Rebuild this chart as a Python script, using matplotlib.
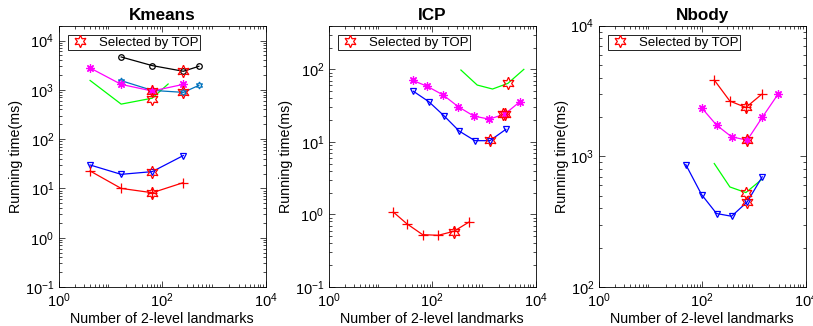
import numpy as np
import matplotlib
matplotlib.use("Agg")
import matplotlib.pyplot as plt
from matplotlib.ticker import LogLocator, LogFormatterMathtext, NullFormatter

plt.rcParams['font.family'] = ['Liberation Sans', 'DejaVu Sans']
plt.rcParams['mathtext.fontset'] = 'custom'
plt.rcParams['mathtext.rm'] = 'Liberation Sans'
plt.rcParams['mathtext.default'] = 'regular'
plt.rcParams['font.size'] = 10.3

# ---- Kmeans data ----
km_black_x = [16, 64, 256, 512]
km_black_y = [4640, 3100, 2380, 3000]
km_mag_x = [4, 16, 64, 256]
km_mag_y = [2780, 1290, 946, 1290]
km_steel_x = [16, 64, 256, 512]
km_steel_y = [1535, 975, 888, 1230]
km_green_x = [4, 16, 64, 130]
km_green_y = [1550, 513, 677, 1313]
km_blue_x = [4, 16, 64, 256]
km_blue_y = [29.9, 19.3, 21.9, 46.4]
km_red_x = [4, 16, 64, 256]
km_red_y = [22.6, 10.0, 8.18, 13.1]
km_sel_x = [256, 256, 64, 64, 64, 64]
km_sel_y = [2380, 888, 931, 660, 21.9, 8.18]

# ---- ICP data ----
icp_green_x = [359, 743, 1472, 2915, 5940]
icp_green_y = [98, 60.8, 53.6, 64.1, 100]
icp_mag_x = [41.6, 80, 163, 318, 640, 1267, 2546, 4977]
icp_mag_y = [70.6, 58.4, 44.3, 30.6, 22.7, 20.6, 24.2, 35.8]
icp_blue_x = [42.9, 86, 168, 333, 670, 1307, 2667]
icp_blue_y = [50, 35.8, 23, 14.1, 10.4, 10.4, 14.9]
icp_red_x = [17.6, 31.9, 65, 131, 263, 520]
icp_red_y = [1.08, 0.748, 0.527, 0.516, 0.587, 0.789]
icp_sel_x = [2915, 2300, 2546, 1307, 263]
icp_sel_y = [64, 24, 24, 10.5, 0.57]

# ---- Nbody data ----
nb_red_x = [171, 343, 700, 1407]
nb_red_y = [3837, 2649, 2367, 2978]
nb_mag_x = [97, 189, 370, 743, 1449, 2915]
nb_mag_y = [2356, 1735, 1411, 1330, 1985, 2978]
nb_green_x = [171, 343, 700, 1407]
nb_green_y = [881, 583, 528, 664]
nb_blue_x = [48, 97, 189, 370, 743, 1449]
nb_blue_y = [865, 510, 365, 348, 448, 697]
nb_sel_x = [700, 743, 700, 743]
nb_sel_y = [2367, 1330, 528, 448]

STEEL = (0, 0.447, 0.741)
HEX = (6, 1, 0)
AST = (8, 2, 0)
lw = 0.9
ms = 5

fig = plt.figure(figsize=(8.13, 3.26), dpi=100)
lefts = [59/813, 329/813, 599/813]
w = 206.5/813
b = 39/326
h = 261.3/326
axs = [fig.add_axes([l, b, w, h]) for l in lefts]

def line(ax, x, y, color, marker=None, size=ms):
    ax.plot(x, y, '-', color=color, lw=lw, marker=marker, ms=size,
            mfc='none', mec=color, mew=lw)

def selected(ax, x, y):
    return ax.plot(x, y, ls='none', marker=HEX, ms=9, mfc='none', mec='red',
                   mew=0.9, label='Selected by TOP')[0]

# Kmeans
ax = axs[0]
line(ax, km_black_x, km_black_y, 'black', 'o', 4)
line(ax, km_green_x, km_green_y, (0, 1, 0))
line(ax, km_steel_x, km_steel_y, STEEL, HEX, 5)
line(ax, km_mag_x, km_mag_y, 'magenta', AST, 6)
line(ax, km_blue_x, km_blue_y, 'blue', 'v', 5)
line(ax, km_red_x, km_red_y, 'red', '+', 7)
selected(ax, km_sel_x, km_sel_y)
ax.set_ylim(0.1, 2e4)
ax.set_yticks([1e-1, 1, 10, 100, 1e3, 1e4])
ax.set_title('Kmeans', fontweight='bold', pad=4)

# ICP
ax = axs[1]
line(ax, icp_green_x, icp_green_y, (0, 1, 0))
line(ax, icp_mag_x, icp_mag_y, 'magenta', AST, 6)
line(ax, icp_blue_x, icp_blue_y, 'blue', 'v', 5)
line(ax, icp_red_x, icp_red_y, 'red', '+', 7)
selected(ax, icp_sel_x, icp_sel_y)
ax.set_ylim(0.1, 400)
ax.set_yticks([1e-1, 1, 10, 100])
ax.set_title('ICP', fontweight='bold', pad=4)

# Nbody
ax = axs[2]
line(ax, nb_red_x, nb_red_y, 'red', '+', 7)
line(ax, nb_mag_x, nb_mag_y, 'magenta', AST, 6)
line(ax, nb_green_x, nb_green_y, (0, 1, 0))
line(ax, nb_blue_x, nb_blue_y, 'blue', 'v', 5)
selected(ax, nb_sel_x, nb_sel_y)
ax.set_ylim(100, 1e4)
ax.set_yticks([100, 1e3, 1e4])
ax.set_title('Nbody', fontweight='bold', pad=4)

for ax in axs:
    ax.set_xscale('log')
    ax.set_yscale('log')
    ax.set_xlim(1, 1e4)
    ax.set_xticks([1, 100, 1e4])
    ax.xaxis.set_major_formatter(LogFormatterMathtext())
    ax.yaxis.set_major_formatter(LogFormatterMathtext())
    ax.xaxis.set_minor_locator(LogLocator(subs=np.arange(2, 10), numticks=20))
    ax.yaxis.set_minor_locator(LogLocator(subs=np.arange(2, 10), numticks=20))
    ax.xaxis.set_minor_formatter(NullFormatter())
    ax.yaxis.set_minor_formatter(NullFormatter())
    ax.tick_params(which='both', direction='in', top=True, right=True, width=0.5)
    ax.tick_params(which='major', length=4, labelsize=10.5)
    ax.tick_params(which='minor', length=2)
    for s in ax.spines.values():
        s.set_linewidth(0.6)
    ax.set_xlabel('Number of 2-level landmarks', labelpad=1)
    ax.set_ylabel('Running time(ms)', labelpad=1)
    leg = ax.legend(loc='upper left', fancybox=False, edgecolor='black',
                    framealpha=1, borderpad=0.12, handletextpad=0.6,
                    handlelength=1.6, borderaxespad=0, fontsize=9.5,
                    bbox_to_anchor=(0.045, 0.965))
    leg.get_frame().set_linewidth(0.6)

fig.savefig('out.png', dpi=100)
